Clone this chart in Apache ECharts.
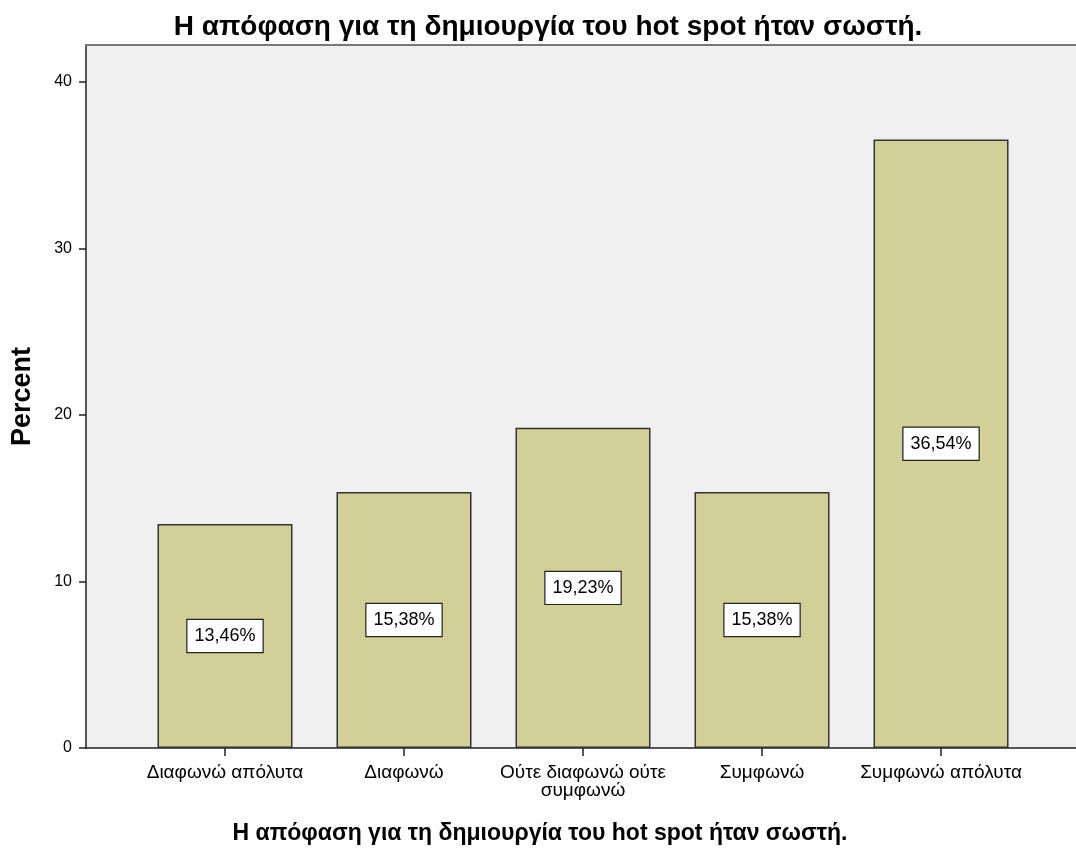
<!DOCTYPE html>
<html>
<head>
<meta charset="utf-8">
<script src="https://cdn.jsdelivr.net/npm/echarts@6/dist/echarts.min.js"></script>
<style>
  html, body { margin: 0; padding: 0; background: #fff; }
  #chart { width: 1076px; height: 850px; }
</style>
</head>
<body>
<div id="chart"></div>
<script>
// data
const categories = ['Διαφωνώ απόλυτα', 'Διαφωνώ', 'Ούτε διαφωνώ ούτε\nσυμφωνώ', 'Συμφωνώ', 'Συμφωνώ απόλυτα'];
const percents = [13.46, 15.38, 19.23, 15.38, 36.54];
const yTicks = [0, 10, 20, 30, 40];
const titleText = 'Η απόφαση για τη δημιουργία του hot spot ήταν σωστή.';

const colors = {
  bg: '#F0F0F0',
  bar: '#D3CF98',
  line: '#222222',
  text: '#000000'
};
const font = 'Arial, "Liberation Sans", sans-serif';

const positions = categories.map((c, i) => i);

const chart = echarts.init(document.getElementById('chart'));
chart.setOption({
  animation: false,
  textStyle: { fontFamily: font, color: colors.text },
  title: {
    text: titleText,
    left: 543, top: 8, textAlign: 'center',
    textStyle: { fontSize: 28, fontWeight: 'bold', color: colors.text, fontFamily: font }
  },
  grid: {
    left: 86, right: 0, top: 45, bottom: 102,
    show: true, backgroundColor: colors.bg, borderWidth: 0
  },
  xAxis: [
    {
      type: 'value',
      min: -0.7765, max: 4.754,
      splitLine: { show: false },
      axisLine: { show: true, onZero: false, lineStyle: { color: colors.line, width: 1.5 } },
      axisTick: { show: true, customValues: positions, length: 8, lineStyle: { color: colors.line, width: 1.5 } },
      axisLabel: {
        customValues: positions,
        formatter: v => categories[Math.round(v)],
        fontSize: 19, color: colors.text, margin: 16, lineHeight: 18, fontFamily: font
      },
      name: titleText,
      nameLocation: 'middle',
      nameGap: 74,
      nameTextStyle: {
        fontSize: 23, fontWeight: 'bold', color: colors.text, fontFamily: font,
        padding: [0, 82, 0, 0]
      }
    },
    {
      type: 'value', position: 'top',
      min: -0.7765, max: 4.754,
      splitLine: { show: false },
      axisLine: { show: true, onZero: false, lineStyle: { color: '#777', width: 2 } },
      axisTick: { show: false },
      axisLabel: { show: false }
    }
  ],
  yAxis: {
    type: 'value',
    min: 0, max: 42.22,
    splitLine: { show: false },
    axisLine: { show: true, onZero: false, lineStyle: { color: colors.line, width: 1.5 } },
    axisTick: { show: true, customValues: yTicks, length: 7, lineStyle: { color: colors.line, width: 1.5 } },
    axisLabel: { customValues: yTicks, fontSize: 16, color: colors.text, margin: 14, fontFamily: font },
    name: 'Percent',
    nameLocation: 'middle',
    nameGap: 50,
    nameTextStyle: { fontSize: 27, fontWeight: 'bold', color: colors.text, fontFamily: font }
  },
  series: [{
    type: 'bar',
    xAxisIndex: 0,
    barWidth: 135,
    data: percents.map((p, i) => [positions[i], p]),
    itemStyle: { color: colors.bar, borderColor: '#333', borderWidth: 1.5 },
    label: {
      show: true,
      position: 'inside',
      formatter: p => p.value[1].toFixed(2).replace('.', ',') + '%',
      fontSize: 18, lineHeight: 20, color: colors.text, fontFamily: font,
      backgroundColor: '#fff', borderColor: '#222', borderWidth: 1.2,
      padding: [6, 7, 6, 7]
    }
  }]
});
</script>
</body>
</html>
